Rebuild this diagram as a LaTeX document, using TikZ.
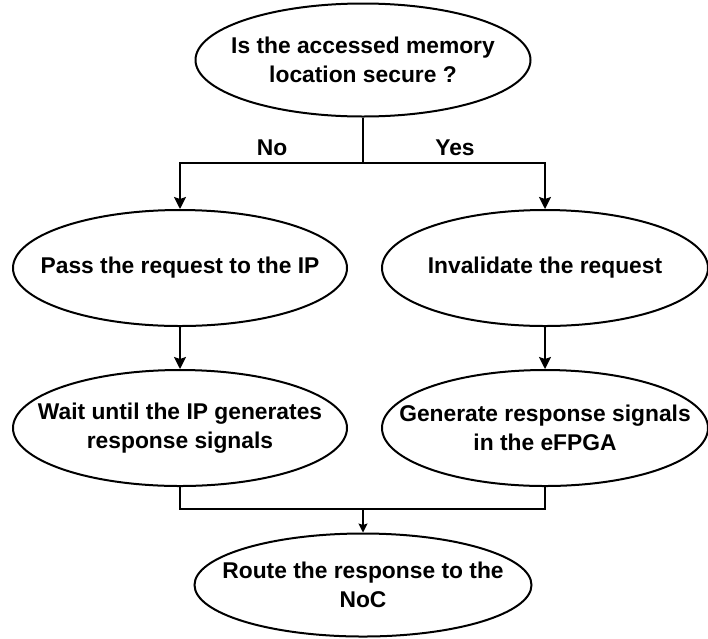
\documentclass[tikz,border=0pt]{standalone}
\usepackage{fontspec}
\setmainfont{Liberation Sans}
\usetikzlibrary{arrows.meta,shapes.geometric}

\begin{document}
\begin{tikzpicture}[x=1pt,y=-1pt]
                    \tikzstyle{every node}+=[inner sep=0pt]
                    \tikzstyle{oval}=[draw, black, ellipse, line width=2pt]
                    \tikzstyle{txt}=[font=\fontsize{22.8}{29}\selectfont\bfseries, align=center]
                    \tikzstyle{arr}=[black, line width=2pt, -{Stealth[length=12pt,width=12pt,inset=2pt]}]
                    \tikzstyle{thinarr}=[black, line width=1.2pt, -{Stealth[length=9pt,width=9pt,inset=1.5pt]}]
                    \useasboundingbox (0,0) rectangle (708,638);
                    % ovals
                    \node [oval, minimum width=335pt, minimum height=113pt] (q) at (363,60) {};
                    \node [txt] (qt) at (q) {Is the accessed memory\\location secure ?};
                    \node [oval, minimum width=334pt, minimum height=116pt] (pass) at (180,268) {};
                    \node [txt] (passt) at (pass) {Pass the request to the IP};
                    \node [oval, minimum width=326pt, minimum height=116pt] (inval) at (545,268) {};
                    \node [txt] (invalt) at (inval) {Invalidate the request};
                    \node [oval, minimum width=334pt, minimum height=116pt] (wait) at (180,428) {};
                    \node [txt] (waitt) at (wait) {Wait until the IP generates\\response signals};
                    \node [oval, minimum width=326pt, minimum height=116pt] (gen) at (545,428) {};
                    \node [txt] (gent) at (gen) {Generate response signals\\in the eFPGA};
                    \node [oval, minimum width=337pt, minimum height=103pt] (route) at (363,585) {};
                    \node [txt] (routet) at (route) {Route the response to the\\NoC};
                    % branches
                    \coordinate (split) at (363,163);
                    \coordinate (join) at (363,509);
                    \draw [black, line width=2pt] (q) -- (split);
                    \draw [arr] (split) -| (pass);
                    \draw [arr] (split) -| (inval);
                    \node [txt] (no) at (272,148) {No};
                    \node [txt] (yes) at (455,148) {Yes};
                    \draw [arr] (pass) -- (wait);
                    \draw [arr] (inval) -- (gen);
                    \draw [black, line width=2pt] (wait.south) -- (wait.south |- join) -- (gen.south |- join) -- (gen.south);
                    \draw [thinarr] (join) -- (route);
\end{tikzpicture}
\end{document}
